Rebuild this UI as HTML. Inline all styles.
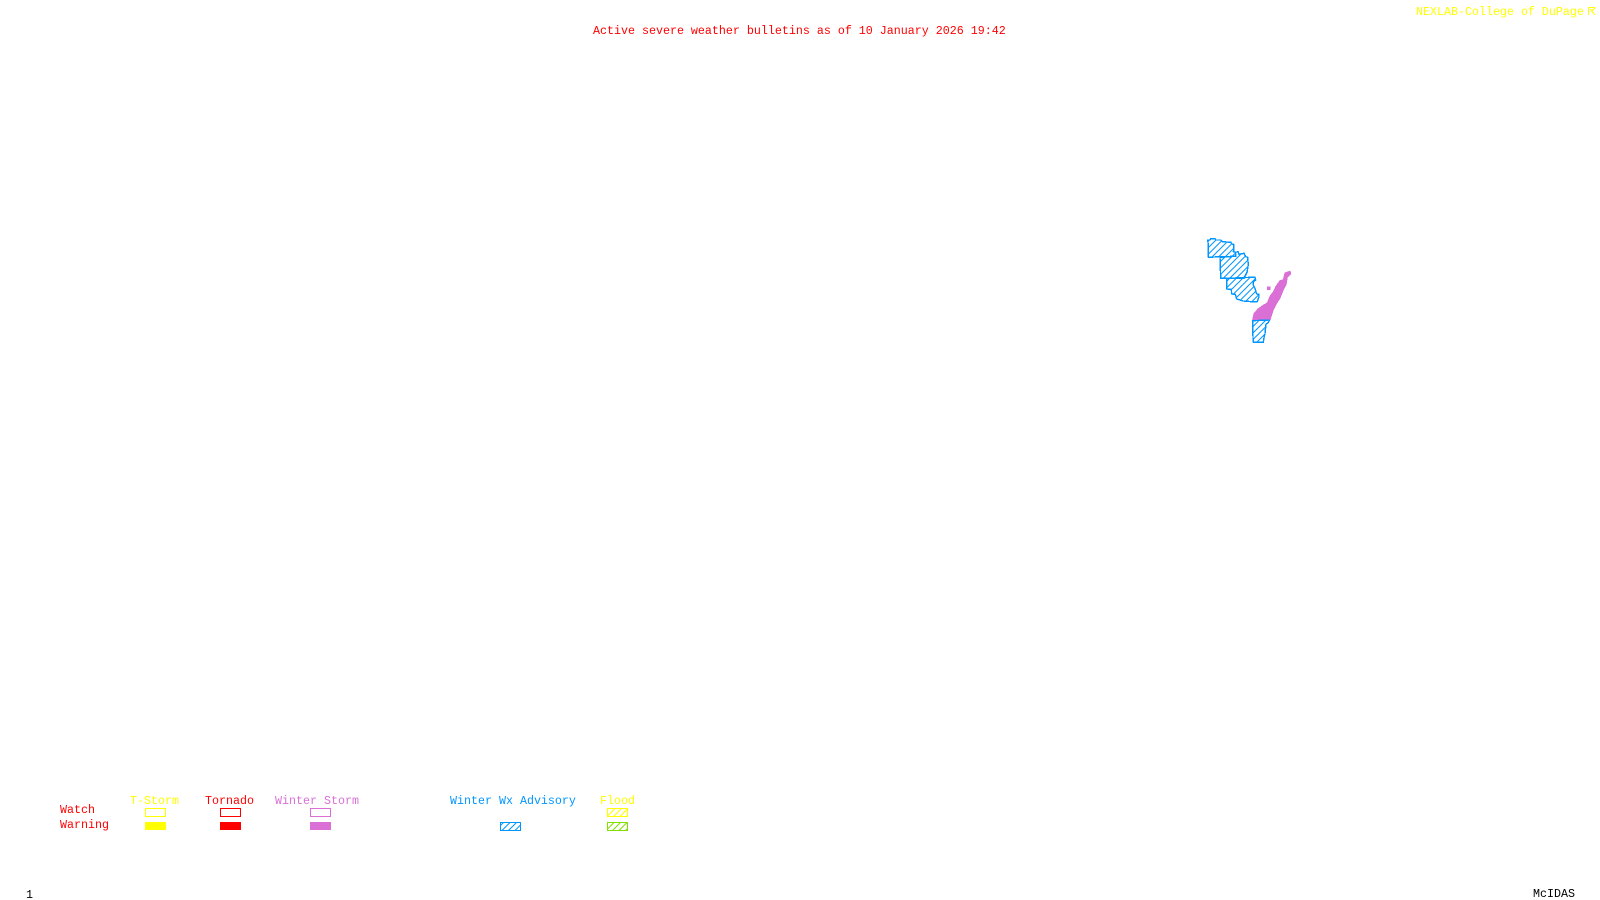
<!DOCTYPE html>
<html><head><meta charset="utf-8"><title>Active severe weather bulletins</title>
<style>
html,body{margin:0;padding:0;background:#fff;width:1600px;height:900px;overflow:hidden}
svg{display:block}
text{font-family:"Liberation Mono",monospace;font-size:11.67px;white-space:pre}
.c{shape-rendering:crispEdges}
</style></head><body>
<svg width="1600" height="900" viewBox="0 0 1600 900" xmlns="http://www.w3.org/2000/svg">
<defs>
<pattern id="hb" patternUnits="userSpaceOnUse" width="6.5" height="6.5"><path d="M-1 7.5L7.5 -1M-1 1L1 -1M5.5 7.5L7.5 5.5" stroke="#0096ff" stroke-width="1" fill="none"/></pattern>
<pattern id="hy" patternUnits="userSpaceOnUse" width="6.5" height="6.5"><path d="M-1 7.5L7.5 -1M-1 1L1 -1M5.5 7.5L7.5 5.5" stroke="#ffff00" stroke-width="1" fill="none"/></pattern>
<pattern id="hg" patternUnits="userSpaceOnUse" width="6.5" height="6.5"><path d="M-1 7.5L7.5 -1M-1 1L1 -1M5.5 7.5L7.5 5.5" stroke="#80e000" stroke-width="1" fill="none"/></pattern>
</defs>
<rect width="1600" height="900" fill="#fff"/>

<text x="593" y="34" fill="#ff0000">Active severe weather bulletins as of 10 January 2026 19:42</text>
<text x="1416" y="15" fill="#ffff00">NEXLAB-College of DuPage</text>
<path class="c" d="M1588.5 7.5H1595M1588.5 7.5V15M1590 9L1595 15M1592 11L1595 8" stroke="#ffff00" stroke-width="1" fill="none"/>

<g class="c" fill="url(#hb)" stroke="#0096ff" stroke-width="1.4" stroke-linejoin="round">
<polygon points="1207.7,240 1210,240 1210.7,238.7 1215,238.7 1215.7,240 1221,240 1222.3,241.7 1231,242.3 1231.7,244 1233.7,244.3 1234,249 1233.3,251.7 1235.3,252.3 1236,256.3 1220,256.7 1208.3,257.3 1208.3,245"/>
<polygon points="1220,257.3 1236,256.3 1235.3,252.3 1238,251.7 1239,254.3 1244,253.3 1245.7,256.7 1247.7,257.3 1248.3,265 1247.7,267.7 1247.3,271.7 1246,274.3 1244,278.3 1220.7,278.3"/>
<polygon points="1226.7,278.3 1251.7,277.3 1255,277.3 1255.7,280 1253.3,281.7 1253.3,285 1255,288.3 1256.7,294 1259,294.3 1259,296.7 1257.3,301.7 1251.7,301.7 1243.3,301 1236.7,299 1235.3,294.3 1231.7,294 1231.3,289.3 1226.7,289"/>
</g>
<g class="c" fill="#da70d6" stroke="#da70d6" stroke-width="1">
<polygon points="1252.7,320 1254,313.7 1258.3,308.7 1263.3,305.3 1267.3,303 1270,296.3 1273.3,292 1276,286.3 1280,280.7 1283.3,279.7 1285,273 1290,271.3 1290.7,274 1287.3,277.3 1286,284.7 1283.3,289.7 1280,298 1276.7,303 1273.3,309.7 1270,320"/>
<rect x="1267.5" y="287" width="2.5" height="2.5"/>
</g>
<polygon class="c" points="1252.7,320.7 1269.3,320 1268.3,322.7 1266,324 1265,333.7 1264,337.7 1263.3,342.3 1253.3,342.3 1252.7,331.7" fill="url(#hb)" stroke="#0096ff" stroke-width="1.4" stroke-linejoin="round"/>

<text x="130" y="804" fill="#ffff00">T-Storm</text>
<text x="205" y="804" fill="#ff0000">Tornado</text>
<text x="275" y="804" fill="#da70d6">Winter Storm</text>
<text x="450" y="804" fill="#0096ff">Winter Wx Advisory</text>
<text x="600" y="804" fill="#ffff00">Flood</text>
<text x="60" y="813" fill="#ff0000">Watch</text>
<text x="60" y="828" fill="#ff0000">Warning</text>

<g class="c" fill="none" stroke-width="1">
<rect x="145.5" y="808.5" width="20" height="8" stroke="#ffff00"/>
<rect x="220.5" y="808.5" width="20" height="8" stroke="#ff0000"/>
<rect x="310.5" y="808.5" width="20" height="8" stroke="#da70d6"/>
</g>
<rect class="c" x="145" y="822" width="21" height="8" fill="#ffff00"/>
<rect class="c" x="220" y="822" width="21" height="8" fill="#ff0000"/>
<rect class="c" x="310" y="822" width="21" height="8" fill="#da70d6"/>
<rect class="c" x="500.5" y="822.5" width="20" height="8" fill="url(#hb)" stroke="#0096ff"/>
<rect class="c" x="607.5" y="808.5" width="20" height="8" fill="url(#hy)" stroke="#ffff00"/>
<rect class="c" x="607.5" y="822.5" width="20" height="8" fill="url(#hg)" stroke="#80e000"/>

<text x="26" y="898" fill="#000">1</text>
<text x="1533" y="897" fill="#000">McIDAS</text>
</svg>
</body></html>
